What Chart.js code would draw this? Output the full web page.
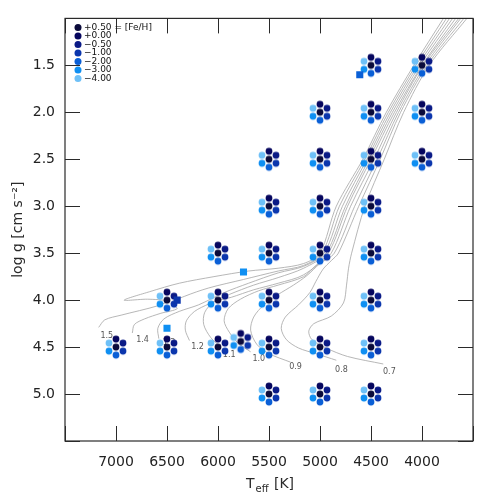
<!DOCTYPE html>
<html>
<head>
<meta charset="utf-8">
<script src="https://cdn.jsdelivr.net/npm/chart.js@4/dist/chart.umd.min.js"></script>
<style>
  html, body { margin: 0; padding: 0; background: #fff; }
  #wrap { width: 486px; height: 498px; position: relative; }
</style>
</head>
<body>
<div id="wrap"><canvas id="chart"></canvas></div>
<script>
// [Fe/H] grid
const metals = ['+0.50', '+0.00', '\u22120.50', '\u22121.00', '\u22122.00', '\u22123.00', '\u22124.00'];
const metalColors = ['#0b0b3b', '#06065e', '#0a1a86', '#0b36ad', '#0a5fd6', '#0f8ff2', '#6ec0f7'];

// model grid nodes (last-but-three is the Sun)
const gridTeff = [4500, 4000,
  5000, 4500, 4000,
  5500, 5000, 4500, 4000,
  5500, 5000, 4500,
  6000, 5500, 5000, 4500,
  6500, 6000, 5500, 5000, 4500,
  7000, 6500, 6000, 5500, 5000, 4500, 5777,
  5500, 5000, 4500];
const gridLogg = [1.5, 1.5,
  2.0, 2.0, 2.0,
  2.5, 2.5, 2.5, 2.5,
  3.0, 3.0, 3.0,
  3.5, 3.5, 3.5, 3.5,
  4.0, 4.0, 4.0, 4.0, 4.0,
  4.5, 4.5, 4.5, 4.5, 4.5, 4.5, 4.44,
  5.0, 5.0, 5.0];

// single stars (squares)
const starTeff = [4610, 5750, 6400, 6500];
const starLogg = [1.60, 3.70, 4.00, 4.30];
const starFeh  = ['\u22122.00', '\u22123.00', '\u22121.00', '\u22123.00'];

// evolutionary tracks
const trackMass = ['0.7', '0.8', '0.9', '1.0', '1.1', '1.2', '1.3', '1.4', '1.5'];
const trackTeff = [
  [4380,4730,4940,5080,5110,5060,4890,4770,4740,4720,4690,4560,4370,4180,3930,3560],
  [4840,5040,5210,5330,5380,5340,5210,5100,5040,4970,4890,4820,4620,4410,4210,3950,3590],
  [5290,5500,5620,5680,5650,5550,5410,5260,5130,5000,4860,4660,4440,4230,3970,3620],
  [5680,5800,5890,5940,5900,5780,5600,5410,5160,5040,4890,4700,4470,4250,3990,3640],
  [5970,6070,6140,6130,6040,5870,5650,5410,5160,4920,4730,4500,4270,4000,3670],
  [6280,6320,6310,6230,6090,5890,5650,5410,5160,4940,4750,4520,4290,4020,3700],
  [6580,6590,6530,6380,6190,5940,5700,5410,5160,4960,4780,4540,4310,4040,3730],
  [6840,6820,6720,6560,6400,6460,6330,6090,5750,5410,5160,4980,4810,4560,4330,4060,3760],
  [7170,7110,6950,6590,6500,6690,6920,6670,6380,6040,5700,5410,5160,5000,4840,4580,4350,4080,3790]
];
const trackLogg = [
  [4.68,4.60,4.51,4.42,4.33,4.25,4.17,4.03,3.84,3.66,3.50,3.00,2.50,2.00,1.50,1.00],
  [4.64,4.57,4.51,4.42,4.30,4.18,4.05,3.92,3.80,3.67,3.58,3.50,3.00,2.50,2.00,1.50,1.00],
  [4.66,4.57,4.47,4.32,4.18,4.05,3.94,3.84,3.74,3.61,3.50,3.00,2.50,2.00,1.50,1.00],
  [4.55,4.46,4.34,4.22,4.09,3.99,3.90,3.84,3.75,3.63,3.50,3.00,2.50,2.00,1.50,1.00],
  [4.50,4.40,4.26,4.13,4.02,3.97,3.89,3.82,3.73,3.50,3.00,2.50,2.00,1.50,1.00],
  [4.43,4.32,4.22,4.12,4.04,3.94,3.84,3.76,3.66,3.50,3.00,2.50,2.00,1.50,1.00],
  [4.41,4.30,4.20,4.12,4.05,3.92,3.82,3.71,3.64,3.50,3.00,2.50,2.00,1.50,1.00],
  [4.35,4.26,4.20,4.14,4.09,4.03,3.96,3.87,3.78,3.69,3.63,3.50,3.00,2.50,2.00,1.50,1.00],
  [4.29,4.21,4.16,4.06,4.01,3.99,4.00,3.91,3.82,3.75,3.69,3.66,3.61,3.50,3.00,2.50,2.00,1.50,1.00]
];
// where the mass labels sit (Teff, logg)
const labelTeff = [4320, 4790, 5240, 5600, 5890, 6200, 6480, 6740, 7090];
const labelLogg = [4.76, 4.74, 4.71, 4.63, 4.58, 4.50, 4.46, 4.42, 4.38];

const xTickLabels = ['4000', '4500', '5000', '5500', '6000', '6500', '7000'];
const yTickLabels = ['1.5', '2.0', '2.5', '3.0', '3.5', '4.0', '4.5', '5.0'];

// hexagon slot of each [Fe/H] dot around the node, in px
const slot = [[0,0],[0,-8],[7,-4],[7,4],[0,8],[-7,4],[-7,-4]];
function dotImage(color, dx, dy) {
  const c = document.createElement('canvas');
  c.width = 26; c.height = 26;
  const g = c.getContext('2d');
  g.fillStyle = color;
  g.beginPath();
  g.arc(13 + dx, 13 + dy, 3.4, 0, Math.PI * 2);
  g.fill();
  return c;
}

const datasets = [];
starTeff.forEach((t, i) => {
  datasets.push({
    data: [{ x: t, y: starLogg[i] }],
    pointStyle: 'rect', pointRadius: 5,
    backgroundColor: metalColors[metals.indexOf(starFeh[i])],
    borderWidth: 0, showLine: false, order: 0
  });
});
metals.forEach((m, k) => {
  datasets.push({
    label: m,
    data: gridTeff.map((t, i) => ({ x: t, y: gridLogg[i] })),
    pointStyle: dotImage(metalColors[k], slot[k][0], slot[k][1]),
    pointRadius: 3, showLine: false, order: 1
  });
});
trackMass.forEach((m, k) => {
  datasets.push({
    label: m,
    data: trackTeff[k].map((t, i) => ({ x: t, y: trackLogg[k][i] })),
    showLine: true, borderColor: '#a4a4a4', borderWidth: 0.8,
    pointRadius: 0, tension: 0.3, fill: false, order: 2
  });
});

const FONT = '"DejaVu Sans", sans-serif';
const ink = '#2a2a2a';

const decor = {
  id: 'decor',
  beforeDatasetsDraw(chart) {
    const { ctx, scales: { x, y } } = chart;
    ctx.save();
    ctx.fillStyle = '#555';
    ctx.font = '8px ' + FONT;
    ctx.textAlign = 'center';
    ctx.textBaseline = 'middle';
    trackMass.forEach((m, k) => {
      ctx.fillText(m, x.getPixelForValue(labelTeff[k]), y.getPixelForValue(labelLogg[k]));
    });
    ctx.restore();
  },
  afterDraw(chart) {
    const { ctx, chartArea: a, scales: { x, y } } = chart;
    ctx.save();
    ctx.strokeStyle = ink;
    ctx.lineWidth = 1.2;
    ctx.strokeRect(a.left, a.top, a.right - a.left, a.bottom - a.top);
    ctx.lineWidth = 1;
    ctx.beginPath();
    x.ticks.forEach(t => {
      const px = Math.round(x.getPixelForValue(t.value)) + 0.5;
      ctx.moveTo(px, a.bottom); ctx.lineTo(px, a.bottom - 15);
      ctx.moveTo(px, a.top); ctx.lineTo(px, a.top + 15);
    });
    y.ticks.forEach(t => {
      const py = Math.round(y.getPixelForValue(t.value)) + 0.5;
      ctx.moveTo(a.left, py); ctx.lineTo(a.left + 15, py);
      ctx.moveTo(a.right, py); ctx.lineTo(a.right - 15, py);
    });
    ctx.stroke();

    // legend
    ctx.font = '9px ' + FONT;
    ctx.textBaseline = 'middle';
    ctx.textAlign = 'left';
    metals.forEach((m, k) => {
      const yy = a.top + 9 + k * 8.5;
      ctx.fillStyle = metalColors[k];
      ctx.beginPath();
      ctx.arc(a.left + 13, yy, 3.5, 0, Math.PI * 2);
      ctx.fill();
      ctx.fillStyle = '#111';
      ctx.fillText(k === 0 ? m + ' = [Fe/H]' : m, a.left + 19, yy);
    });

    // axis titles
    ctx.fillStyle = ink;
    ctx.font = '14px ' + FONT;
    const big = ctx.measureText('T').width;
    const tail = ctx.measureText(' [K]').width;
    ctx.font = '10px ' + FONT;
    const sub = ctx.measureText('eff').width;
    const cx = (a.left + a.right) / 2;
    let sx = cx - (big + sub + tail) / 2;
    ctx.textBaseline = 'alphabetic';
    ctx.font = '14px ' + FONT;
    ctx.fillText('T', sx, 488);
    ctx.font = '10px ' + FONT;
    ctx.fillText('eff', sx + big + 1, 492);
    ctx.font = '14px ' + FONT;
    ctx.fillText(' [K]', sx + big + sub + 2, 488);

    ctx.translate(18, (a.top + a.bottom) / 2);
    ctx.rotate(-Math.PI / 2);
    ctx.textAlign = 'center';
    ctx.textBaseline = 'middle';
    ctx.fillText('log g [cm s\u207B\u00B2]', 0, 0);
    ctx.restore();
  }
};

new Chart(document.getElementById('chart').getContext('2d'), {
  type: 'scatter',
  data: { datasets },
  options: {
    responsive: true,
    maintainAspectRatio: false,
    animation: false,
    layout: { padding: { top: 11, right: 10, left: 0, bottom: 0 } },
    plugins: { legend: { display: false }, tooltip: { enabled: false } },
    scales: {
      x: {
        type: 'linear', min: 3500, max: 7500, reverse: true,
        afterFit: s => { s.height = 57; },
        grid: { display: false, drawTicks: false },
        border: { display: false },
        ticks: {
          stepSize: 500, padding: 13, color: '#222', font: { family: FONT, size: 14 },
          maxRotation: 0, autoSkip: false,
          callback: v => xTickLabels.includes(String(v)) ? String(v) : ''
        }
      },
      y: {
        type: 'linear', min: 1.0, max: 5.5, reverse: true,
        afterFit: s => { s.width = 65; },
        grid: { display: false, drawTicks: false },
        border: { display: false },
        ticks: {
          stepSize: 0.5, padding: 10, color: '#222', font: { family: FONT, size: 14 },
          autoSkip: false,
          callback: v => yTickLabels.includes(v.toFixed(1)) ? v.toFixed(1) : ''
        }
      }
    }
  },
  plugins: [decor]
});
</script>
</body>
</html>
